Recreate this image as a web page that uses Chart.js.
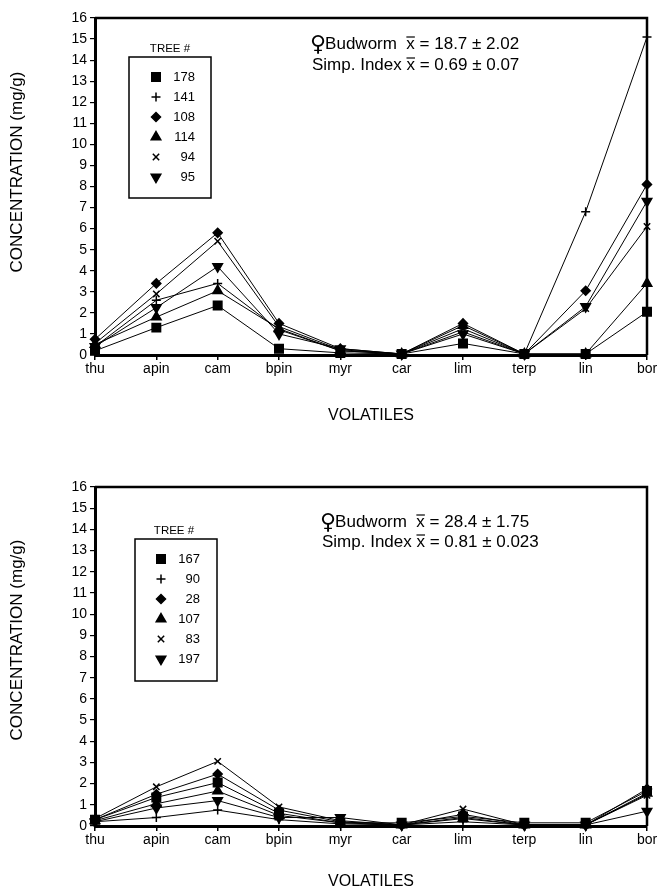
<!DOCTYPE html>
<html>
<head>
<meta charset="utf-8">
<script src="https://cdn.jsdelivr.net/npm/chart.js@4.4.1/dist/chart.umd.min.js"></script>
<style>
  body { margin: 0; background: #fff; }
  .wrap { position: relative; width: 665px; height: 448px; }
  canvas { display: block; }
</style>
</head>
<body>
<div class="wrap"><canvas id="chartTop" width="665" height="448"></canvas></div>
<div class="wrap"><canvas id="chartBottom" width="665" height="448"></canvas></div>
<script>
// categories (volatiles)
const volatiles = ['thu', 'apin', 'cam', 'bpin', 'myr', 'car', 'lim', 'terp', 'lin', 'bor'];
const yTicks = [0, 1, 2, 3, 4, 5, 6, 7, 8, 9, 10, 11, 12, 13, 14, 15, 16];

// top panel - trees 178, 141, 108, 114, 94, 95
const treesTop = ['178', '141', '108', '114', '94', '95'];
const tree178 = [0.2, 1.3, 2.35, 0.3, 0.1, 0.05, 0.55, 0.05, 0.05, 2.05];
const tree141 = [0.4, 2.6, 3.4, 1.2, 0.2, 0.05, 1.1, 0.05, 6.8, 15.1];
const tree108 = [0.75, 3.4, 5.8, 1.5, 0.3, 0.05, 1.5, 0.05, 3.05, 8.1];
const tree114 = [0.5, 1.8, 3.05, 1.25, 0.2, 0.05, 1.4, 0.05, 0.05, 3.4];
const tree94 = [0.55, 2.9, 5.4, 1.35, 0.25, 0.05, 1.25, 0.05, 2.2, 6.1];
const tree95 = [0.4, 2.25, 4.2, 1.0, 0.3, 0.05, 1.0, 0.05, 2.3, 7.3];
const statsTop = { budworm: '18.7 ± 2.02', simp: '0.69 ± 0.07' };

// bottom panel - trees 167, 90, 28, 107, 83, 197
const treesBottom = ['167', '90', '28', '107', '83', '197'];
const tree167 = [0.3, 1.35, 2.05, 0.6, 0.15, 0.15, 0.45, 0.15, 0.15, 1.65];
const tree90 = [0.2, 0.4, 0.75, 0.3, 0.1, 0.05, 0.2, 0.05, 0.05, 1.5];
const tree28 = [0.3, 1.5, 2.45, 0.75, 0.2, 0.05, 0.55, 0.05, 0.05, 1.75];
const tree107 = [0.25, 1.05, 1.65, 0.5, 0.15, 0.05, 0.35, 0.05, 0.05, 1.55];
const tree83 = [0.35, 1.85, 3.05, 0.9, 0.25, 0.05, 0.8, 0.05, 0.05, 1.45];
const tree197 = [0.2, 0.85, 1.2, 0.4, 0.4, 0.05, 0.4, 0.05, 0.05, 0.7];
const statsBottom = { budworm: '28.4 ± 1.75', simp: '0.81 ± 0.023' };

// marker styles, same order as the legend
const markers = [
    { pointStyle: 'rect', radius: 6, rotation: 0 },
    { pointStyle: 'cross', radius: 4.5, rotation: 0 },
    { pointStyle: 'rectRot', radius: 4.5, rotation: 0 },
    { pointStyle: 'triangle', radius: 5.5, rotation: 0 },
    { pointStyle: 'crossRot', radius: 4.5, rotation: 0 },
    { pointStyle: 'triangle', radius: 5.5, rotation: 180 }
];

const FONT = '"Liberation Sans", Arial, Helvetica, sans-serif';

function makeDatasets(names, series) {
    return series.map((values, i) => ({
        label: names[i],
        data: values,
        borderColor: '#000',
        backgroundColor: '#000',
        borderWidth: 1,
        tension: 0,
        clip: false,
        pointStyle: markers[i].pointStyle,
        pointRadius: markers[i].radius,
        pointRotation: markers[i].rotation,
        pointBorderWidth: 1.5,
        pointBackgroundColor: '#000',
        pointBorderColor: '#000'
    }));
}

// box around the plot + legend box + stats text + y title
const panelDecor = {
    id: 'panelDecor',
    afterDraw(chart, args, opts) {
        const ctx = chart.ctx;
        const a = chart.chartArea;
        ctx.save();
        ctx.strokeStyle = '#000';
        ctx.fillStyle = '#000';
        ctx.lineWidth = 2.5;
        ctx.beginPath();
        ctx.moveTo(a.left, a.top);
        ctx.lineTo(a.right, a.top);
        ctx.lineTo(a.right, a.bottom);
        ctx.stroke();

        // y axis title, sits a bit above the plot centre like the original
        ctx.save();
        ctx.translate(17, opts.yTitleY);
        ctx.rotate(-Math.PI / 2);
        ctx.font = '17px ' + FONT;
        ctx.textAlign = 'center';
        ctx.textBaseline = 'middle';
        ctx.fillText('CONCENTRATION (mg/g)', 0, 0);
        ctx.restore();

        // legend
        const lg = opts.legend;
        ctx.font = '11.5px ' + FONT;
        ctx.textAlign = 'center';
        ctx.textBaseline = 'middle';
        ctx.fillText('TREE #', lg.titleX, lg.titleY);
        ctx.lineWidth = 1.5;
        ctx.strokeRect(lg.x, lg.y, lg.w, lg.h);
        ctx.font = '13px ' + FONT;
        ctx.textAlign = 'right';
        opts.trees.forEach((t, i) => {
            const yy = lg.rowY + i * lg.step;
            const m = markers[i];
            ctx.lineWidth = 1.5;
            Chart.helpers.drawPoint(ctx, {
                pointStyle: m.pointStyle,
                radius: m.radius,
                rotation: m.rotation,
                borderWidth: 1.5
            }, lg.markX, yy);
            ctx.fillText(t, lg.numX, yy);
        });

        // stats text
        const st = opts.stats;
        ctx.textAlign = 'left';
        ctx.textBaseline = 'middle';
        const lines = [
            ['Budworm  ', st.budworm],
            ['Simp. Index ', st.simp]
        ];
        lines.forEach((ln, i) => {
            const yy = st.y + i * st.step;
            let xx = st.x;
            if (i === 0) {
                ctx.font = '22px "DejaVu Sans", sans-serif';
                ctx.fillText('\u2640', xx - 2, yy + 1);
                xx += ctx.measureText('\u2640').width - 3;
            }
            ctx.font = '17px ' + FONT;
            ctx.fillText(ln[0], xx, yy);
            xx += ctx.measureText(ln[0]).width;
            ctx.fillText('x', xx, yy);
            const xw = ctx.measureText('x').width;
            ctx.lineWidth = 1.2;
            ctx.beginPath();
            ctx.moveTo(xx, yy - 7);
            ctx.lineTo(xx + xw, yy - 7);
            ctx.stroke();
            xx += xw;
            ctx.fillText(' = ' + ln[1], xx, yy);
        });
        ctx.restore();
    }
};

function makeChart(id, names, series, stats, geo) {
    const ctx = document.getElementById(id).getContext('2d');
    return new Chart(ctx, {
        type: 'line',
        data: { labels: volatiles, datasets: makeDatasets(names, series) },
        options: {
            responsive: false,
            animation: false,
            layout: { padding: { top: geo.top, right: 18, left: 0, bottom: 0 } },
            scales: {
                x: {
                    type: 'category',
                    offset: false,
                    grid: { drawOnChartArea: false, drawTicks: true, tickLength: 5, color: '#000', lineWidth: 1.5 },
                    border: { display: true, color: '#000', width: 3 },
                    ticks: { color: '#000', font: { family: FONT, size: 14 }, padding: 1, maxRotation: 0, autoSkip: false },
                    title: { display: true, text: 'VOLATILES', color: '#000', font: { family: FONT, size: 16 }, padding: { top: 0, bottom: geo.xTitlePad } },
                    afterFit: s => { s.height = geo.xAxisH; }
                },
                y: {
                    min: yTicks[0],
                    max: yTicks[yTicks.length - 1],
                    afterBuildTicks: s => { s.ticks = yTicks.map(v => ({ value: v })); },
                    grid: { drawOnChartArea: false, drawTicks: true, tickLength: 5, color: '#000', lineWidth: 1.2 },
                    border: { display: true, color: '#000', width: 3 },
                    ticks: { color: '#000', font: { family: FONT, size: 14 }, padding: 3 },
                    title: { display: false },
                    afterFit: s => { s.width = 95; }
                }
            },
            plugins: {
                legend: { display: false },
                tooltip: { enabled: false },
                panelDecor: { legend: geo.legend, trees: names, yTitleY: geo.yTitleY, stats: Object.assign({}, stats, geo.stats) }
            }
        },
        plugins: [panelDecor]
    });
}

makeChart('chartTop', treesTop, [tree178, tree141, tree108, tree114, tree94, tree95], statsTop, {
    top: 18, xAxisH: 93, xTitlePad: 23, yTitleY: 172,
    legend: { titleX: 170, titleY: 49, x: 129, y: 57, w: 82, h: 141, rowY: 77, step: 20, markX: 156, numX: 195 },
    stats: { x: 312, y: 44, step: 21 }
});

makeChart('chartBottom', treesBottom, [tree167, tree90, tree28, tree107, tree83, tree197], statsBottom, {
    top: 39, xAxisH: 70, xTitlePad: 5, yTitleY: 192,
    legend: { titleX: 174, titleY: 83, x: 135, y: 91, w: 82, h: 142, rowY: 111, step: 20, markX: 161, numX: 200 },
    stats: { x: 322, y: 74, step: 20 }
});
</script>
</body>
</html>
